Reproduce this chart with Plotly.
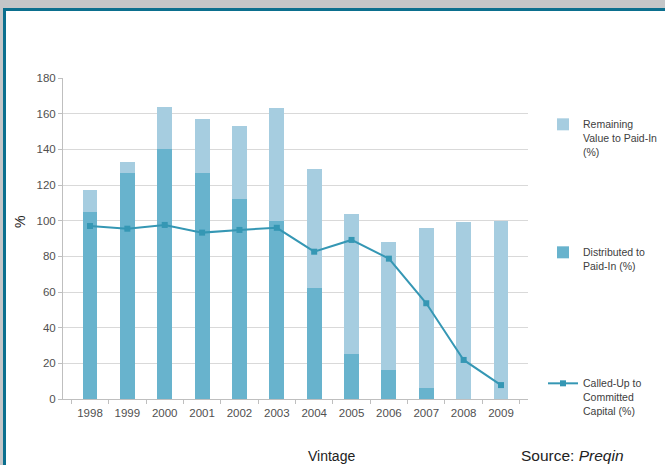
import plotly.graph_objects as go

years = ["1998", "1999", "2000", "2001", "2002", "2003", "2004", "2005", "2006", "2007", "2008", "2009"]
distributed = [105, 127, 140, 127, 112, 100, 62, 25, 16, 6, 0, 0]
remaining = [12, 6, 24, 30, 41, 63, 67, 79, 72, 90, 99, 100]
called_up = [97, 95.5, 97.6, 93.3, 94.8, 96, 82.6, 89.2, 78.7, 53.7, 21.9, 7.8]
y_ticks = [0, 20, 40, 60, 80, 100, 120, 140, 160, 180]

W, H = 665, 465
L, R, T, B = 63, 137, 78, 66
pw, ph = W - L - R, H - T - B

def px(x):
    return (x - L) / pw

def py(y):
    return (H - B - y) / ph

DARK = "#68B3CD"
LIGHT = "#A6CDE0"
LINE = "#3597B4"
FONT = "Liberation Sans, Arial, sans-serif"

fig = go.Figure()
fig.add_trace(go.Bar(x=years, y=distributed, name="Distributed to<br>Paid-In (%)",
                     marker=dict(color=DARK, line=dict(width=0)), legend="legend2"))
fig.add_trace(go.Bar(x=years, y=remaining, name="Remaining<br>Value to Paid-In<br>(%)",
                     marker=dict(color=LIGHT, line=dict(width=0)), legend="legend"))
fig.add_trace(go.Scatter(x=years, y=called_up, name="Called-Up to<br>Committed<br>Capital (%)",
                         mode="lines+markers", line=dict(color=LINE, width=2),
                         marker=dict(symbol="square", size=6, color=LINE), legend="legend3"))

legend_common = dict(font=dict(family=FONT, size=10.5, color="#404040"), bgcolor="rgba(0,0,0,0)",
                     xanchor="left", yanchor="top", valign="top", itemwidth=30,
                     tracegroupgap=0, itemclick=False)

fig.update_layout(
    width=W, height=H,
    margin=dict(l=L, r=R, t=T, b=B, autoexpand=False),
    paper_bgcolor="#C4C6C8",
    plot_bgcolor="rgba(0,0,0,0)",
    barmode="stack",
    bargap=0.6,
    showlegend=True,
    legend=dict(x=px(543), y=py(111), **legend_common),
    legend2=dict(x=px(543), y=py(239), **legend_common),
    legend3=dict(x=px(543), y=py(370), **legend_common),
    font=dict(family=FONT, color="#404040"),
    xaxis=dict(showgrid=False, showline=True, linecolor="#BFBFBF", linewidth=1,
               ticks="outside", tickson="boundaries", ticklen=4, tickcolor="#BFBFBF",
               ticklabelstandoff=3,
               tickfont=dict(size=11.5, color="#505050"), fixedrange=True),
    yaxis=dict(range=[0, 180], tickvals=y_ticks, showgrid=True, gridcolor="#D9D9D9", gridwidth=1,
               showline=True, linecolor="#BFBFBF", linewidth=1, ticks="outside", ticklen=4,
               tickcolor="#BFBFBF", tickfont=dict(size=11.5, color="#505050"), zeroline=False,
               fixedrange=True),
    shapes=[
        dict(type="rect", xref="paper", yref="paper", x0=px(4.5), y0=py(H + 20), x1=px(W + 20), y1=py(9.5),
             line=dict(color="#0B6F8E", width=3), fillcolor="white", layer="below"),
    ],
    annotations=[
        dict(text="%", xref="paper", yref="paper", x=px(20), y=py(222), showarrow=False,
             xanchor="center", yanchor="middle",
             textangle=-90, font=dict(size=14, color="#222222", family=FONT)),
        dict(text="Vintage", xref="paper", yref="paper", x=px(331), y=py(456), showarrow=False,
             xanchor="center", yanchor="middle",
             font=dict(size=14, color="#222222", family=FONT)),
        dict(text="Source: <i>Preqin</i>", xref="paper", yref="paper", x=px(519), y=py(455),
             xanchor="left", yanchor="middle", showarrow=False,
             font=dict(size=15.5, color="#222222", family=FONT)),
    ],
)

fig.write_html("out.html")
